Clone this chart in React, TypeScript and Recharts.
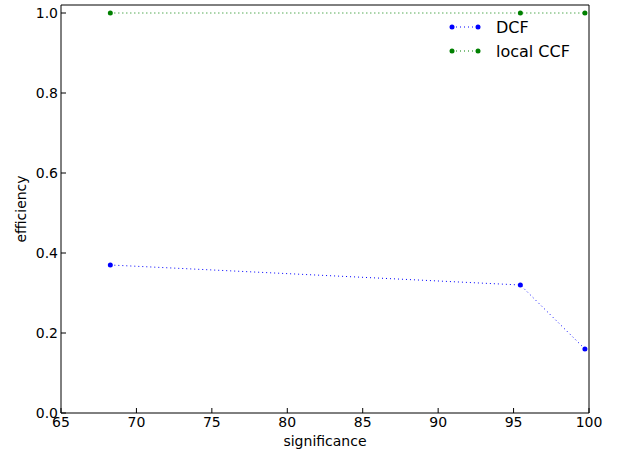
import React from 'react';
import { LineChart, Line, XAxis, YAxis, Label } from 'recharts';

const significance = [68.27, 95.45, 99.73];
const dcfEfficiency = [0.37, 0.32, 0.16];
const localCcfEfficiency = [1.0, 1.0, 1.0];
const xTicks = [65, 70, 75, 80, 85, 90, 95, 100];
const yTicks = [0, 0.2, 0.4, 0.6, 0.8, 1.0];

const data = significance.map((s, i) => ({ x: s, dcf: dcfEfficiency[i], ccf: localCcfEfficiency[i] }));

const FONT = 'DejaVu Sans, sans-serif';

const LegendBox = () => (
  <svg width={160} height={60} style={{ position: 'absolute', left: 448, top: 13, overflow: 'visible' }}>
    {[
      { c: '#0000ff', t: 'DCF', y: 14 },
      { c: '#008000', t: 'local CCF', y: 38 },
    ].map((e) => (
      <g key={e.t}>
        <line x1={4} x2={30} y1={e.y} y2={e.y} stroke={e.c} strokeDasharray="1 3" strokeWidth={1} />
        <circle cx={4} cy={e.y} r={2.5} fill={e.c} />
        <circle cx={30} cy={e.y} r={2.5} fill={e.c} />
        <text x={48} y={e.y + 6} fontSize={16} fontFamily={FONT} fill="#000">{e.t}</text>
      </g>
    ))}
  </svg>
);

export default function App() {
  const tickStyle = { fontSize: 14, fontFamily: FONT, fill: '#000' };
  return (
    <div style={{ position: 'absolute', left: 0, top: 0, width: 621, height: 452 }}>
      <LineChart width={621} height={452} data={data} margin={{ top: 4, right: 31, left: 0, bottom: 0 }}>
        <XAxis
          xAxisId="b"
          dataKey="x"
          type="number"
          domain={[65, 100]}
          ticks={xTicks}
          height={39}
          tickSize={-5}
          tickMargin={9}
          stroke="#000"
          tick={tickStyle}
          allowDataOverflow
        >
          <Label value="significance" position="insideBottom" offset={6} style={{ fontSize: 14, fontFamily: FONT, fill: '#000' }} />
        </XAxis>
        <XAxis
          xAxisId="t"
          dataKey="x"
          type="number"
          orientation="top"
          domain={[65, 100]}
          ticks={xTicks}
          height={1}
          tickSize={-5}
          tick={false}
          stroke="#000"
          allowDataOverflow
        />
        <YAxis
          yAxisId="l"
          type="number"
          domain={[0, 1.02]}
          ticks={yTicks}
          width={61}
          tickSize={-5}
          tickMargin={8}
          stroke="#000"
          tick={tickStyle}
          tickFormatter={(v: number) => v.toFixed(1)}
          allowDataOverflow
        >
          <Label value="efficiency" angle={-90} position="insideLeft" offset={21} style={{ fontSize: 14, fontFamily: FONT, fill: '#000', textAnchor: 'middle' }} />
        </YAxis>
        <YAxis
          yAxisId="r"
          type="number"
          orientation="right"
          domain={[0, 1.02]}
          ticks={yTicks}
          width={1}
          tickSize={-5}
          tick={false}
          stroke="#000"
          allowDataOverflow
        />
        <Line
          xAxisId="b"
          yAxisId="l"
          dataKey="dcf"
          stroke="#0000ff"
          strokeDasharray="1 3"
          strokeWidth={1}
          dot={{ r: 2.5, fill: '#0000ff', stroke: '#0000ff', strokeWidth: 0 }}
          isAnimationActive={false}
        />
        <Line
          xAxisId="b"
          yAxisId="l"
          dataKey="ccf"
          stroke="#008000"
          strokeDasharray="1 3"
          strokeWidth={1}
          dot={{ r: 2.5, fill: '#008000', stroke: '#008000', strokeWidth: 0 }}
          isAnimationActive={false}
        />
      </LineChart>
      <LegendBox />
    </div>
  );
}
